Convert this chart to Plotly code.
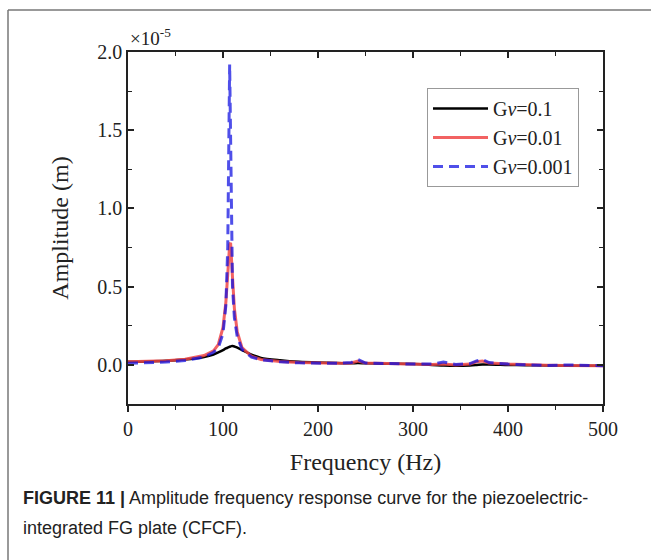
import plotly.graph_objects as go

# ---- data (amplitude in units of 1e-5 m) ----
freq = [0, 20, 40, 60, 80, 90, 95, 100, 103, 105, 106, 107, 108, 109, 110, 112, 115,
        120, 130, 140, 160, 180, 200, 220, 235, 242, 250, 270, 300, 320, 332, 345,
        360, 367, 373, 380, 400, 420, 440, 460, 480, 500]

amp_gv_01 = [0.02, 0.022, 0.026, 0.034, 0.05, 0.066, 0.08, 0.095, 0.105, 0.11, 0.113,
             0.116, 0.118, 0.12, 0.12, 0.118, 0.11, 0.095, 0.065, 0.045, 0.03, 0.02,
             0.015, 0.012, 0.01, 0.012, 0.01, 0.008, 0.005, 0.0, -0.004, -0.006, -0.004,
             -0.001, 0.002, 0.003, 0.0, -0.002, -0.004, -0.005, -0.005, -0.006]

amp_gv_001 = [0.02, 0.022, 0.027, 0.036, 0.06, 0.09, 0.13, 0.24, 0.4, 0.58, 0.69, 0.77,
              0.78, 0.7, 0.56, 0.36, 0.21, 0.11, 0.055, 0.035, 0.022, 0.015, 0.012, 0.01,
              0.012, 0.025, 0.012, 0.008, 0.005, 0.002, 0.005, 0.0, 0.005, 0.02, 0.025,
              0.012, 0.005, 0.0, -0.002, -0.004, -0.005, -0.006]

amp_gv_0001 = [0.01, 0.012, 0.018, 0.028, 0.05, 0.08, 0.11, 0.2, 0.38, 0.75, 1.3, 1.92,
               1.45, 0.8, 0.5, 0.3, 0.18, 0.1, 0.05, 0.032, 0.02, 0.013, 0.01, 0.01,
               0.015, 0.035, 0.012, 0.008, 0.005, 0.005, 0.018, 0.003, 0.008, 0.025,
               0.035, 0.015, 0.005, 0.0, -0.004, 0.0, -0.003, -0.005]

series_names = ["G<i>ν</i>=0.1", "G<i>ν</i>=0.01", "G<i>ν</i>=0.001"]
x_ticks = [0, 100, 200, 300, 400, 500]
y_ticks = [0.0, 0.5, 1.0, 1.5, 2.0]
y_ticklabels = ["0.0", "0.5", "1.0", "1.5", "2.0"]

FONT = "Liberation Serif"
PW, PH = 475, 352  # plot area size in px


def py(ypix):
    return (404 - ypix) / PH


def px(xpix):
    return (xpix - 128) / PW


fig = go.Figure()
fig.add_trace(go.Scatter(x=freq, y=amp_gv_01, name=series_names[0], mode="lines",
                         line=dict(color="#000000", width=2.5, shape="spline", smoothing=0.8)))
fig.add_trace(go.Scatter(x=freq, y=amp_gv_001, name=series_names[1], mode="lines",
                         line=dict(color="rgba(240,70,70,0.85)", width=3)))
fig.add_trace(go.Scatter(x=freq, y=amp_gv_0001, name=series_names[2], mode="lines",
                         line=dict(color="rgba(20,20,225,0.75)", width=3, dash="10px,6px")))
# invisible trace to carry the top axis
fig.add_trace(go.Scatter(x=freq, y=amp_gv_01, xaxis="x2", mode="lines", showlegend=False,
                         line=dict(color="rgba(0,0,0,0)", width=0), hoverinfo="skip"))

fig.update_layout(
    width=651, height=560,
    margin=dict(l=128, r=48, t=52, b=156),
    paper_bgcolor="white", plot_bgcolor="white",
    font=dict(family=FONT, size=20, color="#222"),
    showlegend=True,
    legend=dict(x=px(427), y=py(88), xanchor="left", yanchor="top",
                bordercolor="#999", borderwidth=1, bgcolor="white",
                font=dict(family=FONT, size=20, color="#222"),
                itemwidth=55, tracegroupgap=0),
    xaxis=dict(range=[0, 500], tickvals=x_ticks, ticks="outside", ticklen=6,
               tickwidth=1.5, tickcolor="#222", showline=True, linecolor="#222",
               linewidth=1.5, mirror=True, showgrid=False, zeroline=False,
               minor=dict(dtick=50, ticks="outside", ticklen=4, tickcolor="#222", tickwidth=1.2),
               title=dict(text="Frequency (Hz)", standoff=14),
               tickfont=dict(family=FONT, size=20)),
    xaxis2=dict(range=[0, 500], overlaying="x", side="top", showticklabels=False,
                tickvals=x_ticks, ticks="inside", ticklen=6, tickwidth=1.5, tickcolor="#222",
                showline=False, showgrid=False, zeroline=False,
                minor=dict(dtick=50, ticks="inside", ticklen=4, tickcolor="#222", tickwidth=1.2)),
    yaxis=dict(range=[-0.25, 2.0], tickvals=y_ticks, ticktext=y_ticklabels,
               ticks="inside", ticklen=6, tickwidth=1.5, tickcolor="#222",
               showline=True, linecolor="#222", linewidth=1.5, mirror="ticks",
               showgrid=False, zeroline=False,
               minor=dict(dtick=0.25, ticks="inside", ticklen=4, tickcolor="#222", tickwidth=1.2),
               title=dict(text="Amplitude (m)", standoff=22),
               tickfont=dict(family=FONT, size=20)),
)

# exponent label
fig.add_annotation(xref="paper", yref="paper", x=px(128), y=py(37), xanchor="left", yanchor="middle",
                   text="×10<sup>-5</sup>", showarrow=False,
                   font=dict(family=FONT, size=19, color="#222"))

# caption
fig.add_annotation(xref="paper", yref="paper", x=px(21), y=py(498),
                   xanchor="left", yanchor="middle", align="left", showarrow=False,
                   text="<b>FIGURE 11 |</b> Amplitude frequency response curve for the piezoelectric-",
                   font=dict(family="Liberation Sans", size=18, color="#222"))
fig.add_annotation(xref="paper", yref="paper", x=px(21), y=py(528),
                   xanchor="left", yanchor="middle", align="left", showarrow=False,
                   text="integrated FG plate (CFCF).",
                   font=dict(family="Liberation Sans", size=18, color="#222"))

# outer frame lines (left and top)
fig.add_shape(type="line", xref="paper", yref="paper",
              x0=px(8), x1=px(8), y0=py(10), y1=py(600), line=dict(color="#777", width=1.5))
fig.add_shape(type="line", xref="paper", yref="paper",
              x0=px(8), x1=px(700), y0=py(10), y1=py(10), line=dict(color="#777", width=1.5))

fig.write_html("out.html")
